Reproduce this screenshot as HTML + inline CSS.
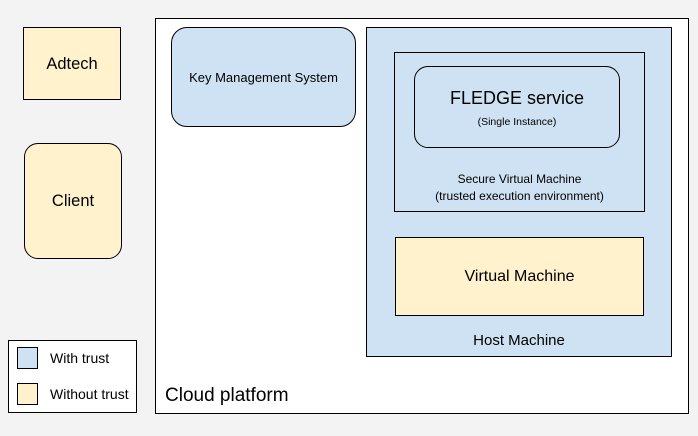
<!DOCTYPE html>
<html><head><style>
body{margin:0;width:698px;height:436px;background:#f3f3f3;position:relative;font-family:"Liberation Sans",sans-serif;color:#000;overflow:hidden}
div{position:absolute;box-sizing:border-box;border:1px solid #000}
.t{border:none;text-align:center;white-space:nowrap}
.y{background:#fff2cc}.b{background:#cfe2f3}
</style></head><body>
<div class="y" style="left:23px;top:27px;width:98px;height:73px"></div>
<div class="t" style="left:23px;top:55px;width:98px;font-size:16.5px">Adtech</div>
<div class="y" style="left:24px;top:143px;width:98px;height:116px;border-radius:14px"></div>
<div class="t" style="left:24px;top:192px;width:98px;font-size:16.5px">Client</div>
<div style="left:155px;top:18px;width:534px;height:396px;background:#fff"></div>
<div class="b" style="left:171px;top:27px;width:185px;height:100px;border-radius:16px"></div>
<div class="t" style="left:171px;top:70px;width:185px;font-size:13px">Key Management System</div>
<div class="b" style="left:366px;top:27px;width:306px;height:330px"></div>
<div class="b" style="left:394px;top:52px;width:251px;height:160px"></div>
<div class="b" style="left:414px;top:66px;width:206px;height:82px;border-radius:14px"></div>
<div class="t" style="left:414px;top:88px;width:206px;font-size:18px">FLEDGE service</div>
<div class="t" style="left:414px;top:116px;width:206px;font-size:10.5px">(Single Instance)</div>
<div class="t" style="left:394px;top:171px;width:251px;font-size:12px;line-height:17px">Secure Virtual Machine<br>(trusted execution environment)</div>
<div class="y" style="left:395px;top:237px;width:249px;height:79px"></div>
<div class="t" style="left:395px;top:268px;width:249px;font-size:16px">Virtual Machine</div>
<div class="t" style="left:366px;top:332px;width:306px;font-size:15px">Host Machine</div>
<div class="t" style="left:165px;top:385px;font-size:19px;text-align:left">Cloud platform</div>
<div style="left:8px;top:340px;width:129px;height:73px;background:#fff"></div>
<div class="b" style="left:17px;top:347px;width:21px;height:22px"></div>
<div class="y" style="left:17px;top:383px;width:21px;height:22px"></div>
<div class="t" style="left:50px;top:350px;font-size:14px;text-align:left">With trust</div>
<div class="t" style="left:50px;top:386px;font-size:14px;text-align:left">Without trust</div>
</body></html>
